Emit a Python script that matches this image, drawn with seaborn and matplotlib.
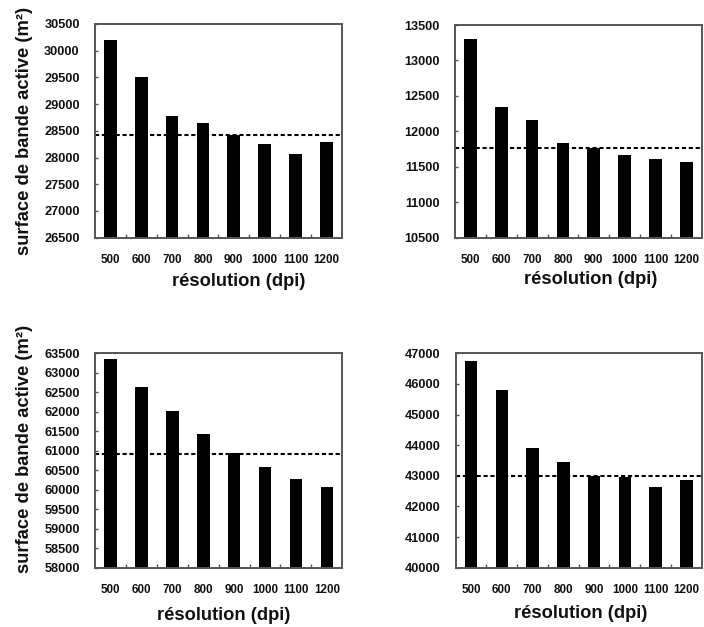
import matplotlib
matplotlib.use("Agg")
import matplotlib.pyplot as plt
import seaborn as sns
import pandas as pd

# données
resolutions = ["500", "600", "700", "800", "900", "1000", "1100", "1200"]
surface_a = [30200, 29500, 28770, 28640, 28420, 28260, 28070, 28300]
surface_b = [13300, 12340, 12160, 11840, 11770, 11670, 11610, 11570]
surface_c = [63350, 62630, 62020, 61430, 60930, 60580, 60280, 60070]
surface_d = [46760, 45790, 43910, 43450, 43000, 42960, 42640, 42870]
reference = [28420, 11760, 60920, 42980]
ylims = [(26500, 30500), (10500, 13500), (58000, 63500), (40000, 47000)]
ysteps = [500, 500, 500, 1000]

xlabel = "résolution (dpi)"
ylabel = "surface de bande active (m²)"

sns.set_theme(style="white")
plt.rcParams["font.family"] = ["Liberation Sans", "DejaVu Sans"]
plt.rcParams["font.weight"] = "bold"

fig = plt.figure(figsize=(7.04, 6.27), dpi=100)
W, H = 704, 627
# [gauche, haut, droite, bas] en pixels
boxes = [(95, 24, 341.7, 237.7), (455, 25, 701.7, 237.7),
         (95, 353.3, 342.3, 567.7), (455.7, 353.3, 701.7, 567.7)]
xlab_pos = [(0.50 + 20 / 246.7, -0.206), (0.50 + 12 / 246.7, -0.198),
            (0.50 + 5 / 246.7, -0.221), (0.50 + 2 / 246.7, -0.214)]
ylab_pos = [(-0.284, 0.50), None, (-0.284, 0.554), None]

series = [surface_a, surface_b, surface_c, surface_d]
text_col = "#111111"
frame_col = "#555555"

for i, values in enumerate(series):
    l, t, r, b = boxes[i]
    ax = fig.add_axes([l / W, (H - b) / H, (r - l) / W, (b - t) / H])
    df = pd.DataFrame({"res": resolutions, "surf": values})
    sns.barplot(data=df, x="res", y="surf", color="black", saturation=1,
                width=0.41, ax=ax, edgecolor="black", linewidth=0)
    ax.axhline(reference[i], color="black", lw=1.5, ls=(0, (2.0, 1.3)))
    ax.set_xlim(-0.5, 7.5)
    lo, hi = ylims[i]
    ax.set_ylim(lo, hi)
    ax.set_yticks(range(lo, hi + 1, ysteps[i]))
    ax.set_xticks(range(len(resolutions)))
    ax.set_xticks([k + 0.5 for k in range(len(resolutions) - 1)], minor=True)

    for s in ax.spines.values():
        s.set_visible(True)
        s.set_color(frame_col)
        s.set_linewidth(1.4)

    ax.tick_params(axis="y", direction="in", length=2, width=1, color=frame_col,
                   pad=11, labelsize=9.2, labelcolor=text_col, left=True)
    ax.tick_params(axis="x", which="major", length=0, pad=11.5, labelsize=8.4,
                   labelcolor=text_col)
    ax.tick_params(axis="x", which="minor", direction="in", length=3, width=1,
                   color=frame_col, bottom=True)
    for lab in ax.get_xticklabels() + ax.get_yticklabels():
        lab.set_fontweight("bold")

    ax.set_xlabel(xlabel, fontsize=13.2, fontweight="bold", color=text_col)
    ax.xaxis.set_label_coords(*xlab_pos[i])
    ax.xaxis.label.set_va("center")
    if ylab_pos[i] is not None:
        ax.set_ylabel(ylabel, fontsize=13.2, fontweight="bold", color=text_col)
        ax.yaxis.set_label_coords(*ylab_pos[i])
        ax.yaxis.label.set_va("center")
    else:
        ax.set_ylabel("")

fig.savefig("out.png", dpi=100)
